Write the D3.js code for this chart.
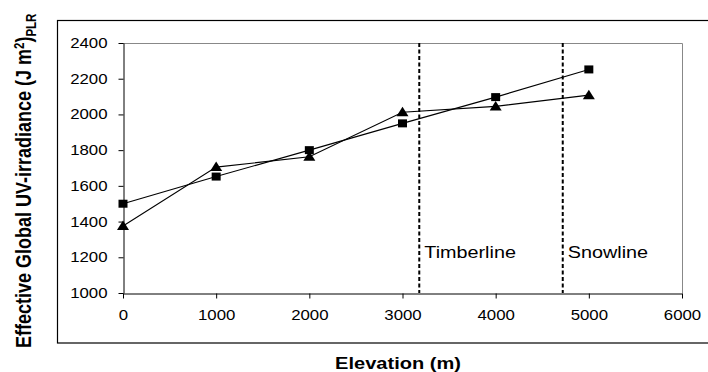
<!DOCTYPE html>
<html>
<head>
<meta charset="utf-8">
<script src="https://cdn.jsdelivr.net/npm/d3@7"></script>
<style>
  body { margin: 0; background: #fff; }
  text { font-family: "Liberation Sans", Arial, sans-serif; fill: #000; }
</style>
</head>
<body>
<svg id="chart" width="708" height="372"></svg>
<script>
// Elevation profile of effective global UV irradiance, two measurement series
const elevations = [0, 1000, 2000, 3000, 4000, 5000];
const squareSeries = [1500, 1652, 1800, 1950, 2097, 2252];
const triangleSeries = [1375, 1705, 1763, 2012, 2045, 2108];
const xTicks = [0, 1000, 2000, 3000, 4000, 5000, 6000];
const yTicks = [1000, 1200, 1400, 1600, 1800, 2000, 2200, 2400];
const zoneNames = ["Timberline", "Snowline"];
const zoneElevations = [3180, 4720];

const svg = d3.select("#chart");
const plot = { left: 123, right: 682, top: 43, bottom: 293 };
const WIDEN = 1.2; // text is set slightly wide

const x = d3.scaleLinear().domain([0, 6000]).range([plot.left, plot.right]);
const y = d3.scaleLinear().domain([1000, 2400]).range([plot.bottom, plot.top]);

// outer chart frame (runs past the right edge)
svg.append("rect")
  .attr("x", 57.5).attr("y", 20.5)
  .attr("width", 700).attr("height", 322.5)
  .attr("fill", "none").attr("stroke", "#000").attr("stroke-width", 1.2);

// plot-area border (top and right)
svg.append("path")
  .attr("d", `M${plot.left},${plot.top + 0.5}H${plot.right + 0.5}V${plot.bottom}`)
  .attr("fill", "none").attr("stroke", "#888").attr("stroke-width", 1);

// axes
const xAxis = svg.append("g")
  .attr("transform", `translate(0,${plot.bottom + 0.5})`)
  .call(d3.axisBottom(x).tickValues(xTicks).tickSize(5).tickSizeOuter(0).tickPadding(12).tickFormat(d3.format("d")));
const yAxis = svg.append("g")
  .attr("transform", `translate(${plot.left + 0.5},0)`)
  .call(d3.axisLeft(y).tickValues(yTicks).tickSize(5).tickSizeOuter(0).tickPadding(11).tickFormat(d3.format("d")));
[xAxis, yAxis].forEach(g => {
  g.select(".domain").attr("stroke", "#000");
  g.selectAll(".tick line").attr("stroke", "#000");
  g.selectAll(".tick text")
    .style("font-family", "'Liberation Sans', Arial, sans-serif")
    .style("font-size", "14px").attr("fill", "#000")
    .attr("x", function () { return (+d3.select(this).attr("x") || 0) / WIDEN; })
    .attr("transform", `scale(${WIDEN},1)`);
});

// zone boundaries
zoneElevations.forEach((e, i) => {
  svg.append("line")
    .attr("x1", x(e)).attr("x2", x(e))
    .attr("y1", plot.top).attr("y2", plot.bottom)
    .attr("stroke", "#000").attr("stroke-width", 2)
    .attr("stroke-dasharray", "4,2.5");
  svg.append("text")
    .attr("transform", `translate(${x(e) + 5},258) scale(${WIDEN},1)`)
    .style("font-size", "16.5px")
    .text(zoneNames[i]);
});

// series lines
const line = d3.line().x((d, i) => x(elevations[i])).y(d => y(d));
[squareSeries, triangleSeries].forEach(s => {
  svg.append("path").datum(s)
    .attr("d", line)
    .attr("fill", "none").attr("stroke", "#000").attr("stroke-width", 1.1);
});

// markers
svg.selectAll(".sq").data(squareSeries).enter().append("path")
  .attr("transform", (d, i) => `translate(${x(elevations[i])},${y(d)})`)
  .attr("d", "M-4.5,-4H4.5V4H-4.5Z")
  .attr("fill", "#000");
svg.selectAll(".tri").data(triangleSeries).enter().append("path")
  .attr("transform", (d, i) => `translate(${x(elevations[i])},${y(d)})`)
  .attr("d", "M0,-5.5L6,4L-6,4Z")
  .attr("fill", "#000");

// axis titles
svg.append("text")
  .attr("transform", `translate(398,369) scale(${WIDEN},1)`)
  .attr("text-anchor", "middle")
  .style("font-size", "16.7px").style("font-weight", "bold")
  .text("Elevation (m)");

const yTitle = svg.append("text")
  .attr("transform", `translate(31,348) scale(${WIDEN},1) rotate(-90)`)
  .attr("text-anchor", "start")
  .style("font-size", "18px").style("font-weight", "bold");
yTitle.append("tspan").text("Effective Global UV-irradiance (J m");
yTitle.append("tspan").attr("dy", -6).style("font-size", "11.5px").text("2");
yTitle.append("tspan").attr("dy", 6).text(")");
yTitle.append("tspan").attr("dy", 4).style("font-size", "11.5px").text("PLR");
</script>
</body>
</html>
